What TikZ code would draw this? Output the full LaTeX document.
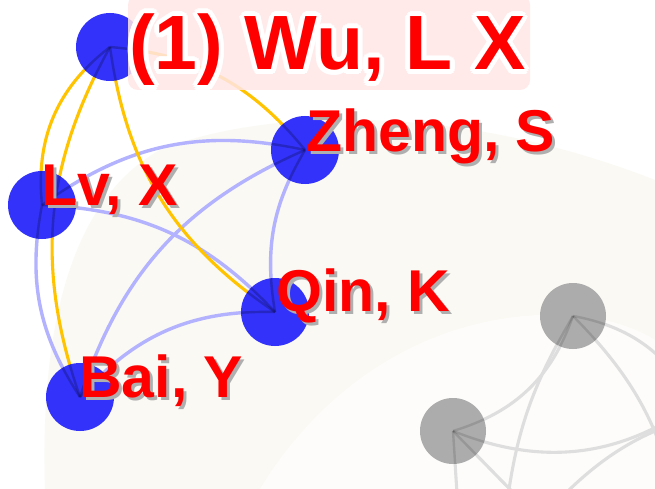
\documentclass[tikz,border=0pt]{standalone}
\usepackage{fontspec}
\setmainfont{Liberation Sans}
\definecolor{nodeblue}{RGB}{50,50,250}
\definecolor{edgeyellow}{RGB}{255,195,0}
\definecolor{edgeblue}{RGB}{178,178,255}
\definecolor{edgegrey}{RGB}{222,222,222}
\definecolor{nodegrey}{RGB}{172,172,172}
\definecolor{labelred}{RGB}{255,0,0}
\definecolor{titlepink}{RGB}{255,230,230}
\definecolor{beige}{RGB}{250,249,243}
\definecolor{shadowgrey}{RGB}{175,175,175}
\definecolor{innernavy}{RGB}{20,20,110}
\newcommand\myauthoredges[1]{%
\draw[colink,#1] (lv.center) to[bend left=24] (zheng.center);
\draw[colink,#1] (lv.center) to[bend left=22] (qin.center);
\draw[colink,#1] (lv.center) to[bend right=22] (bai.center);
\draw[colink,#1] (zheng.center) to[bend right=20] (qin.center);
\draw[colink,#1] (zheng.center) to[bend right=24] (bai.center);
\draw[colink,#1] (bai.center) to[bend left=25] (qin.center);
\draw[coauth,#1] (wu.center) to[bend right=29] (lv.center);
\draw[coauth,#1] (wu.center) to[bend right=24] (bai.center);
\draw[coauth,#1] (wu.center) to[bend right=24] (qin.center);
\draw[coauth,#1] (wu.center) to[bend left=23] (zheng.center);}
\newcommand\myotheredges[1]{%
\draw[greylink,#1] (g1.center) to[bend left=29] (o1);
\draw[greylink,#1] (g1.center) to[bend left=17] (o2);
\draw[greylink,#1] (g1.center) to[bend left=27] (g2.center);
\draw[greylink,#1] (g1.center) to[bend right=12] (o3);
\draw[greylink,#1] (g2.center) to[bend right=29] (o4);
\draw[greylink,#1] (g2.center) -- (o5);
\draw[greylink,#1] (g2.center) -- (o6);
\draw[greylink,#1] (o7) .. controls (590,-465) and (630,-435) .. (o8);}
\begin{document}
\begin{tikzpicture}[x=1pt,y=1pt,
  author/.style={circle, fill=nodeblue, minimum size=68pt, inner sep=0pt},
  other/.style={circle, fill=nodegrey, minimum size=66pt, inner sep=0pt},
  coauth/.style={draw=edgeyellow, line width=3.1pt},
  colink/.style={draw=edgeblue, line width=3.4pt},
  greylink/.style={draw=edgegrey, line width=3.1pt},
  innerline/.style={draw=innernavy, draw opacity=0.4, line width=2.4pt},
  innergrey/.style={draw=black, draw opacity=0.12, line width=2.4pt},
  lbl/.style={font=\bfseries\fontsize{59}{59}\selectfont, anchor=base west, inner sep=0pt, text=labelred},
  lblshadow/.style={lbl, text=shadowgrey},
  titletext/.style={font=\bfseries\fontsize{77}{77}\selectfont, anchor=base west, inner sep=0pt, text=labelred}
]
\useasboundingbox (0,0) rectangle (655,-489);
\clip (0,0) rectangle (655,-489);
% background
\fill[white] (0,0) rectangle (655,-489);
\fill[beige] (45,-489) .. controls (40,-330) and (70,-200) .. (160,-150)
  .. controls (260,-110) and (450,-100) .. (655,-180) -- (655,-489) -- cycle;
\fill[white, opacity=0.6] (260,-489) .. controls (320,-390) and (420,-320) .. (540,-315)
  .. controls (600,-312) and (640,-330) .. (655,-340) -- (655,-489) -- cycle;

% node positions
\coordinate (wu) at (110,-47);
\coordinate (zheng) at (305,-150);
\coordinate (lv) at (42,-205);
\coordinate (qin) at (275,-312);
\coordinate (bai) at (80,-397);
\coordinate (g1) at (573,-316);
\coordinate (g2) at (453,-431);
\coordinate (o1) at (700,-420);
\coordinate (o2) at (680,-520);
\coordinate (o3) at (505,-520);
\coordinate (o4) at (700,-400);
\coordinate (o5) at (460,-540);
\coordinate (o6) at (540,-520);
\coordinate (o7) at (540,-520);
\coordinate (o8) at (700,-415);

% edges
\myauthoredges{}
\myotheredges{}

% nodes
\node[author] (wun) at (wu) {};
\node[author] (zhengn) at (zheng) {};
\node[author] (lvn) at (lv) {};
\node[author] (qinn) at (qin) {};
\node[author] (bain) at (bai) {};
\node[other] (g1n) at (g1) {};
\node[other] (g2n) at (g2) {};

% edge traces seen through the nodes
\begin{scope}
\clip (wu) circle (34) (zheng) circle (34) (lv) circle (34) (qin) circle (34) (bai) circle (34);
\myauthoredges{innerline}
\end{scope}
\begin{scope}
\clip (g1) circle (33) (g2) circle (33);
\myotheredges{innergrey}
\end{scope}

% title
\fill[titlepink, opacity=0.85, rounded corners=10pt] (128,5) rectangle (530,-90);
\foreach \a in {0,22.5,...,337.5}
  \node[titletext, text=white, shift={(\a:5)}] (halo\a) at (129,-70) {(1) Wu, L X};
\node[titletext] (title) at (129,-70) {(1) Wu, L X};

% labels
\node[lblshadow] (zhengs) at (309,-155) {Zheng, S};
\node[lbl] (zhengl) at (306,-152) {Zheng, S};
\node[lblshadow] (lvs) at (44,-208) {Lv, X};
\node[lbl] (lvl) at (41,-205) {Lv, X};
\node[lblshadow] (qins) at (279,-314) {Qin, K};
\node[lbl] (qinl) at (276,-311) {Qin, K};
\node[lblshadow] (bais) at (82,-400) {Bai, Y};
\node[lbl] (bail) at (79,-397) {Bai, Y};
\end{tikzpicture}
\end{document}
